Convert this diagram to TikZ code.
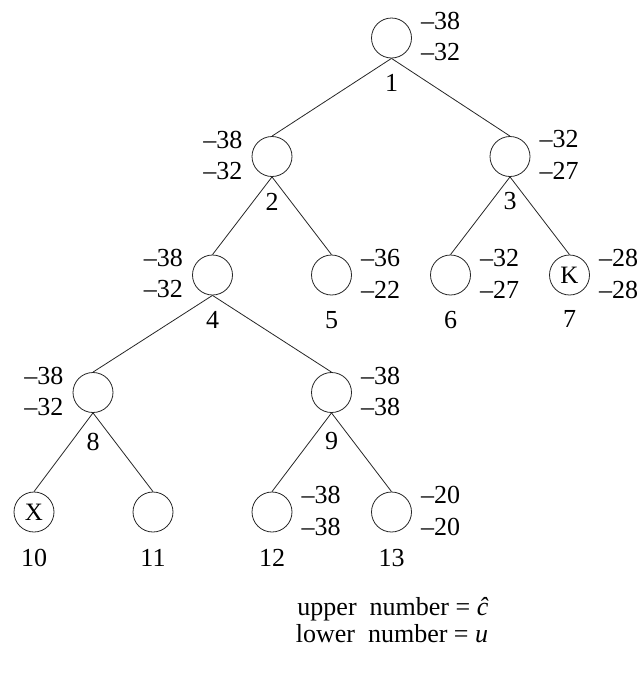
\documentclass[tikz,border=0pt]{standalone}
\usepackage{fontspec}
\setmainfont{Liberation Serif}
\begin{document}
\begin{tikzpicture}[x=1pt,y=-1pt,
  vtx/.style={draw=black!85, circle, minimum size=40pt, inner sep=0pt, line width=0.8pt, font=\fontsize{25}{28}\selectfont},
  val/.style={inner sep=0pt, font=\fontsize{26}{31}\selectfont},
  num/.style={inner sep=0pt, font=\fontsize{26}{31}\selectfont},
  edge/.style={draw=black!85, line width=0.8pt}]
\useasboundingbox (0,0) rectangle (644,673);
% vertices
\node[vtx] (n1) at (391.5,38) {};
\node[vtx] (n2) at (272,156.5) {};
\node[vtx] (n3) at (510,156.5) {};
\node[vtx] (n4) at (212.5,275) {};
\node[vtx] (n5) at (331.5,275) {};
\node[vtx] (n6) at (450.5,275) {};
\node[vtx] (n7) at (569.5,275) {K};
\node[vtx] (n8) at (93,392.5) {};
\node[vtx] (n9) at (331.5,392.5) {};
\node[vtx] (n10) at (34,512) {X};
\node[vtx] (n11) at (153,512) {};
\node[vtx] (n12) at (272,512) {};
\node[vtx] (n13) at (391.5,512) {};
% edges
\draw[edge] (n1.south) -- (n2.north);
\draw[edge] (n1.south) -- (n3.north);
\draw[edge] (n2.south) -- (n4.north);
\draw[edge] (n2.south) -- (n5.north);
\draw[edge] (n3.south) -- (n6.north);
\draw[edge] (n3.south) -- (n7.north);
\draw[edge] (n4.south) -- (n8.north);
\draw[edge] (n4.south) -- (n9.north);
\draw[edge] (n8.south) -- (n10.north);
\draw[edge] (n8.south) -- (n11.north);
\draw[edge] (n9.south) -- (n12.north);
\draw[edge] (n9.south) -- (n13.north);
% vertex numbers
\node[num] (l1) at ([shift={(0,45)}]n1.center) {1};
\node[num] (l2) at ([shift={(0,45)}]n2.center) {2};
\node[num] (l3) at ([shift={(0,45)}]n3.center) {3};
\node[num] (l4) at ([shift={(0,45)}]n4.center) {4};
\node[num] (l5) at ([shift={(0,45)}]n5.center) {5};
\node[num] (l6) at ([shift={(0,45)}]n6.center) {6};
\node[num] (l7) at ([shift={(0,44)}]n7.center) {7};
\node[num] (l8) at ([shift={(0,49)}]n8.center) {8};
\node[num] (l9) at ([shift={(0,49)}]n9.center) {9};
\node[num] (l10) at ([shift={(0,46)}]n10.center) {10};
\node[num] (l11) at ([shift={(0,46)}]n11.center) {11};
\node[num] (l12) at ([shift={(0,46)}]n12.center) {12};
\node[num] (l13) at ([shift={(0,46)}]n13.center) {13};
% values (right side)
\node[val, anchor=west] (v1a) at ([shift={(9,-17)}]n1.east) {\textendash38};
\node[val, anchor=west] (v1b) at ([shift={(9,14.5)}]n1.east) {\textendash32};
\node[val, anchor=west] (v3a) at ([shift={(9,-17)}]n3.east) {\textendash32};
\node[val, anchor=west] (v3b) at ([shift={(9,14.5)}]n3.east) {\textendash27};
\node[val, anchor=west] (v5a) at ([shift={(9,-17)}]n5.east) {\textendash36};
\node[val, anchor=west] (v5b) at ([shift={(9,14.5)}]n5.east) {\textendash22};
\node[val, anchor=west] (v6a) at ([shift={(9,-17)}]n6.east) {\textendash32};
\node[val, anchor=west] (v6b) at ([shift={(9,14.5)}]n6.east) {\textendash27};
\node[val, anchor=west] (v7a) at ([shift={(9,-17)}]n7.east) {\textendash28};
\node[val, anchor=west] (v7b) at ([shift={(9,14.5)}]n7.east) {\textendash28};
\node[val, anchor=west] (v9a) at ([shift={(9,-17)}]n9.east) {\textendash38};
\node[val, anchor=west] (v9b) at ([shift={(9,14.5)}]n9.east) {\textendash38};
\node[val, anchor=west] (v12a) at ([shift={(9,-17)}]n12.east) {\textendash38};
\node[val, anchor=west] (v12b) at ([shift={(9,14.5)}]n12.east) {\textendash38};
\node[val, anchor=west] (v13a) at ([shift={(9,-17)}]n13.east) {\textendash20};
\node[val, anchor=west] (v13b) at ([shift={(9,14.5)}]n13.east) {\textendash20};
% values (left side)
\node[val, anchor=east] (v2a) at ([shift={(-9,-17)}]n2.west) {\textendash38};
\node[val, anchor=east] (v2b) at ([shift={(-9,14.5)}]n2.west) {\textendash32};
\node[val, anchor=east] (v4a) at ([shift={(-9,-17)}]n4.west) {\textendash38};
\node[val, anchor=east] (v4b) at ([shift={(-9,14.5)}]n4.west) {\textendash32};
\node[val, anchor=east] (v8a) at ([shift={(-9,-17)}]n8.west) {\textendash38};
\node[val, anchor=east] (v8b) at ([shift={(-9,14.5)}]n8.west) {\textendash32};
% legend
\node[num, anchor=base] (leg1) at (393,615) {upper\ \ number = \textit{ĉ}};
\node[num, anchor=base] (leg2) at (392,642.5) {lower\ \ number = \textit{u}};
\end{tikzpicture}
\end{document}
